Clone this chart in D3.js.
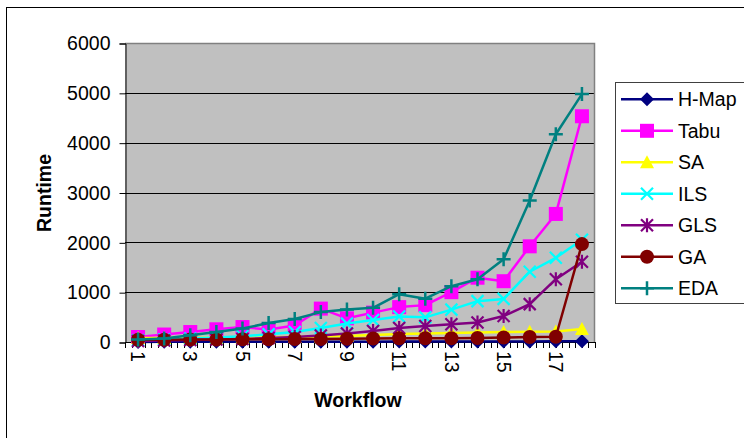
<!DOCTYPE html>
<html>
<head>
<meta charset="utf-8">
<script src="https://cdn.jsdelivr.net/npm/d3@7"></script>
<style>
  html, body { margin: 0; padding: 0; background: #fff; }
  svg { display: block; font-family: "Liberation Sans", Arial, sans-serif; }
</style>
</head>
<body>
<svg id="chart" width="744" height="438"></svg>
<script>
// Workflow runtimes per scheduling algorithm
const workflows = d3.range(1, 19);
const hmap = [2, 3, 3, 4, 4, 5, 5, 6, 6, 7, 8, 8, 9, 10, 11, 12, 13, 15];
const tabu = [100, 150, 200, 255, 300, 250, 330, 670, 475, 590, 700, 740, 1000, 1290, 1220, 1920, 2570, 4530];
const sa = [80, 80, 85, 85, 90, 95, 100, 110, 120, 140, 160, 170, 180, 190, 200, 205, 210, 260];
const ils = [35, 50, 70, 90, 115, 155, 200, 280, 370, 440, 510, 495, 650, 820, 865, 1410, 1690, 2050];
const gls = [20, 30, 40, 50, 60, 80, 100, 130, 170, 220, 280, 320, 355, 390, 520, 760, 1260, 1610];
const ga = [45, 45, 50, 50, 55, 55, 60, 60, 65, 70, 75, 75, 75, 80, 90, 100, 105, 1965];
const eda = [50, 70, 135, 200, 270, 380, 460, 600, 650, 685, 960, 870, 1120, 1260, 1660, 2840, 4170, 4975];
const yTicks = [0, 1000, 2000, 3000, 4000, 5000, 6000];
const xLabels = [1, 3, 5, 7, 9, 11, 13, 15, 17];

const series = [
  { name: "H-Map", values: hmap, color: "#000080", marker: "diamond" },
  { name: "Tabu", values: tabu, color: "#FF00FF", marker: "square" },
  { name: "SA", values: sa, color: "#FFFF00", marker: "triangle" },
  { name: "ILS", values: ils, color: "#00FFFF", marker: "x" },
  { name: "GLS", values: gls, color: "#800080", marker: "star" },
  { name: "GA", values: ga, color: "#800000", marker: "circle" },
  { name: "EDA", values: eda, color: "#008080", marker: "plus" }
];

const svg = d3.select("#chart");
const plot = { left: 125, right: 595, top: 43, bottom: 342 };

const x = d3.scaleBand().domain(workflows).range([plot.left, plot.right]);
const cx = d => x(d) + x.bandwidth() / 2;
const y = d3.scaleLinear().domain([0, 6000]).range([plot.bottom, plot.top]);

// outer chart frame
svg.append("rect")
  .attr("x", 6.5).attr("y", 7.5).attr("width", 760).attr("height", 460)
  .attr("fill", "#fff").attr("stroke", "#000").attr("stroke-width", 1);

// plot area
svg.append("rect")
  .attr("x", plot.left).attr("y", plot.top)
  .attr("width", plot.right - plot.left).attr("height", plot.bottom - plot.top)
  .attr("fill", "#C0C0C0");

// horizontal gridlines
svg.append("g").selectAll("line").data(yTicks.filter(v => v > 0 && v < 6000)).join("line")
  .attr("x1", plot.left).attr("x2", plot.right)
  .attr("y1", d => Math.round(y(d)) + 0.5).attr("y2", d => Math.round(y(d)) + 0.5)
  .attr("stroke", "#000").attr("stroke-width", 1);

// plot border (top/right)
svg.append("path")
  .attr("d", `M${plot.left},${plot.top + 0.5}H${plot.right - 0.5}V${plot.bottom}`)
  .attr("fill", "none").attr("stroke", "#808080").attr("stroke-width", 1.5);

// y axis
const yAxis = d3.axisLeft(y).tickValues(yTicks).tickSize(6).tickPadding(9).tickFormat(d3.format("d"));
const gy = svg.append("g").attr("transform", `translate(${plot.left + 0.5},0.5)`).call(yAxis);
gy.select(".domain").attr("stroke", "#000");
gy.selectAll(".tick line").attr("stroke", "#000");
gy.selectAll(".tick text").attr("font-size", 19.5).attr("fill", "#000")
  .attr("font-family", "Liberation Sans, Arial, sans-serif");

// x axis with quarter-category tick marks
const qTicks = d3.range(0, workflows.length * 4 + 1).map(i => plot.left + i * x.bandwidth() / 4);
svg.append("line")
  .attr("x1", plot.left).attr("x2", plot.right)
  .attr("y1", plot.bottom + 0.5).attr("y2", plot.bottom + 0.5)
  .attr("stroke", "#000");
svg.append("g").selectAll("line").data(qTicks).join("line")
  .attr("x1", d => Math.round(d) + 0.5).attr("x2", d => Math.round(d) + 0.5)
  .attr("y1", plot.bottom).attr("y2", plot.bottom + 6)
  .attr("stroke", "#000");

svg.append("g").selectAll("text").data(xLabels).join("text")
  .attr("transform", d => `translate(${cx(d)},${plot.bottom + 9}) rotate(90)`)
  .attr("text-anchor", "start").attr("dy", "0.35em")
  .attr("font-size", 19.5).attr("fill", "#000")
  .text(d => d);

// axis titles
svg.append("text")
  .attr("x", 358).attr("y", 407).attr("text-anchor", "middle")
  .attr("font-size", 19.5).attr("font-weight", "bold").text("Workflow");
svg.append("text")
  .attr("transform", "translate(51,193) rotate(-90)").attr("text-anchor", "middle")
  .attr("font-size", 19.5).attr("font-weight", "bold").text("Runtime");

// marker drawing
function drawMarker(g, type, color) {
  const s = 7;
  switch (type) {
    case "diamond":
      g.append("path").attr("d", `M0,${-s}L${s},0L0,${s}L${-s},0Z`).attr("fill", color);
      break;
    case "square":
      g.append("rect").attr("x", -s).attr("y", -s).attr("width", 2 * s).attr("height", 2 * s).attr("fill", color);
      break;
    case "triangle":
      g.append("path").attr("d", `M0,${-s}L${s},${s - 1}L${-s},${s - 1}Z`).attr("fill", color);
      break;
    case "x":
      g.append("path").attr("d", `M${-s + 1},${-s + 1}L${s - 1},${s - 1}M${s - 1},${-s + 1}L${-s + 1},${s - 1}`)
        .attr("stroke", color).attr("stroke-width", 2.2).attr("fill", "none");
      break;
    case "star":
      g.append("path").attr("d", `M${-s + 1},${-s + 1}L${s - 1},${s - 1}M${s - 1},${-s + 1}L${-s + 1},${s - 1}M0,${-s}L0,${s}`)
        .attr("stroke", color).attr("stroke-width", 2.2).attr("fill", "none");
      break;
    case "circle":
      g.append("circle").attr("r", s).attr("fill", color);
      break;
    case "plus":
      g.append("path").attr("d", `M${-s},0L${s},0M0,${-s}L0,${s}`)
        .attr("stroke", color).attr("stroke-width", 2.5).attr("fill", "none");
      break;
  }
}

// series lines and markers
const line = d3.line().x((d, i) => cx(workflows[i])).y(d => y(d));
series.forEach(s => {
  const g = svg.append("g");
  g.append("path").attr("d", line(s.values))
    .attr("fill", "none").attr("stroke", s.color).attr("stroke-width", 2.5)
    .attr("stroke-linejoin", "round");
  s.values.forEach((v, i) => {
    const m = g.append("g").attr("transform", `translate(${cx(workflows[i])},${y(v)})`);
    drawMarker(m, s.marker, s.color);
  });
});

// legend
const legend = svg.append("g");
legend.append("rect")
  .attr("x", 615.5).attr("y", 82.5).attr("width", 160).attr("height", 221)
  .attr("fill", "#fff").attr("stroke", "#404040").attr("stroke-width", 1);
series.forEach((s, i) => {
  const ly = 99.3 + i * 31.5;
  const row = legend.append("g").attr("transform", `translate(0,${ly})`);
  row.append("line").attr("x1", 621).attr("x2", 673).attr("y1", 0).attr("y2", 0)
    .attr("stroke", s.color).attr("stroke-width", 2.5);
  const m = row.append("g").attr("transform", "translate(647,0)");
  drawMarker(m, s.marker, s.color);
  row.append("text").attr("x", 678).attr("y", 0).attr("dy", "0.36em")
    .attr("font-size", 19.5).attr("fill", "#000").text(s.name);
});
</script>
</body>
</html>
